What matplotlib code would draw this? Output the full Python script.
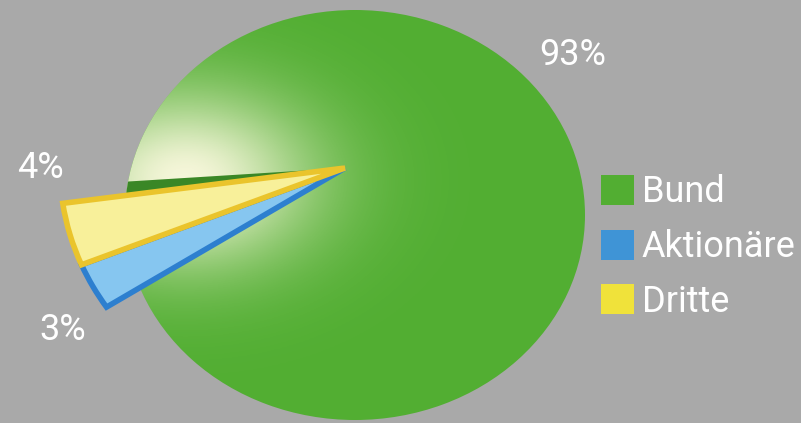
import numpy as np
import matplotlib.pyplot as plt
from matplotlib.patches import Patch

# Anteile
labels = ['Bund', 'Aktionäre', 'Dritte']
shares = [93, 3, 4]
colors = ['#52ae32', '#3f94d6', '#f0e23a']
face_colors = ['#52ae32', '#86c6f0', '#f8f09a']
edge_colors = ['none', '#2d7fcf', '#eac42c']
pct_text = ['93%', '3%', '4%']

bg = '#a9a9a9'
plt.rcParams['font.family'] = ['Roboto', 'DejaVu Sans']

W, H = 801, 423
yscale = 230 / 205.0
fig = plt.figure(figsize=(W / 100, H / 100), dpi=100, facecolor=bg)
ax = fig.add_axes([0, 0, 1, 1])

def py(y):
    return (H - y) * yscale

apex = (345, py(168))

# grüne Fläche
base, _ = ax.pie([sum(shares)], colors=[colors[0]], center=(355, py(215)), radius=230,
                 frame=True, wedgeprops=dict(linewidth=0))

# dunkle Seitenfläche der Aussparung
notch, _ = ax.pie(shares, colors=['none', '#3a8726', '#3a8726'], center=apex, radius=300,
                  startangle=184, counterclock=False, frame=True,
                  wedgeprops=dict(linewidth=0))
notch[0].set_visible(False)
for w in notch:
    w.set_clip_on(True)
    w.set_clip_path(base[0])
    w.set_zorder(2.5)

# herausgezogene kleine Stücke
small, _ = ax.pie(shares, colors=face_colors, center=apex, radius=285,
                  startangle=188, counterclock=False, frame=True,
                  wedgeprops=dict(linewidth=4))
small[0].set_visible(False)
for w, ec in zip(small, edge_colors):
    w.set_edgecolor(ec)
    w.set_zorder(3)

ax.set_xlim(0, W)
ax.set_ylim(0, H * yscale)
ax.set_aspect('auto')
ax.set_facecolor(bg)
ax.axis('off')

# Glanzlicht auf dem grünen Stück
xx, yy = np.meshgrid(np.linspace(0, W, 400), np.linspace(0, H * yscale, 240))
d2 = ((xx - 185) / 130.0) ** 2 + ((yy - py(180)) / 100.0) ** 2
img = np.zeros(xx.shape + (4,))
img[..., :3] = [0.99, 0.98, 0.88]
img[..., 3] = 0.97 * np.exp(-d2)
im = ax.imshow(img, extent=(0, W, 0, H * yscale), origin='lower', aspect='auto', zorder=2)
im.set_clip_path(base[0])

# Prozentangaben
fig.text(573 / W, 1 - 55 / H, pct_text[0], color='white', fontsize=26, ha='center', va='center')
fig.text(40 / W, 1 - 168 / H, pct_text[2], color='white', fontsize=26, ha='center', va='center')
fig.text(63 / W, 1 - 330 / H, pct_text[1], color='white', fontsize=26, ha='center', va='center')

handles = [Patch(facecolor=c, edgecolor='none') for c in colors]
leg = fig.legend(handles, labels, loc='center left', bbox_to_anchor=(587 / W, 1 - 247 / H),
                 frameon=False, fontsize=26, labelcolor='white', handlelength=0.9,
                 handleheight=0.9, handletextpad=0.22, labelspacing=0.52, borderaxespad=0)

fig.savefig('out.png', dpi=100, facecolor=bg)
